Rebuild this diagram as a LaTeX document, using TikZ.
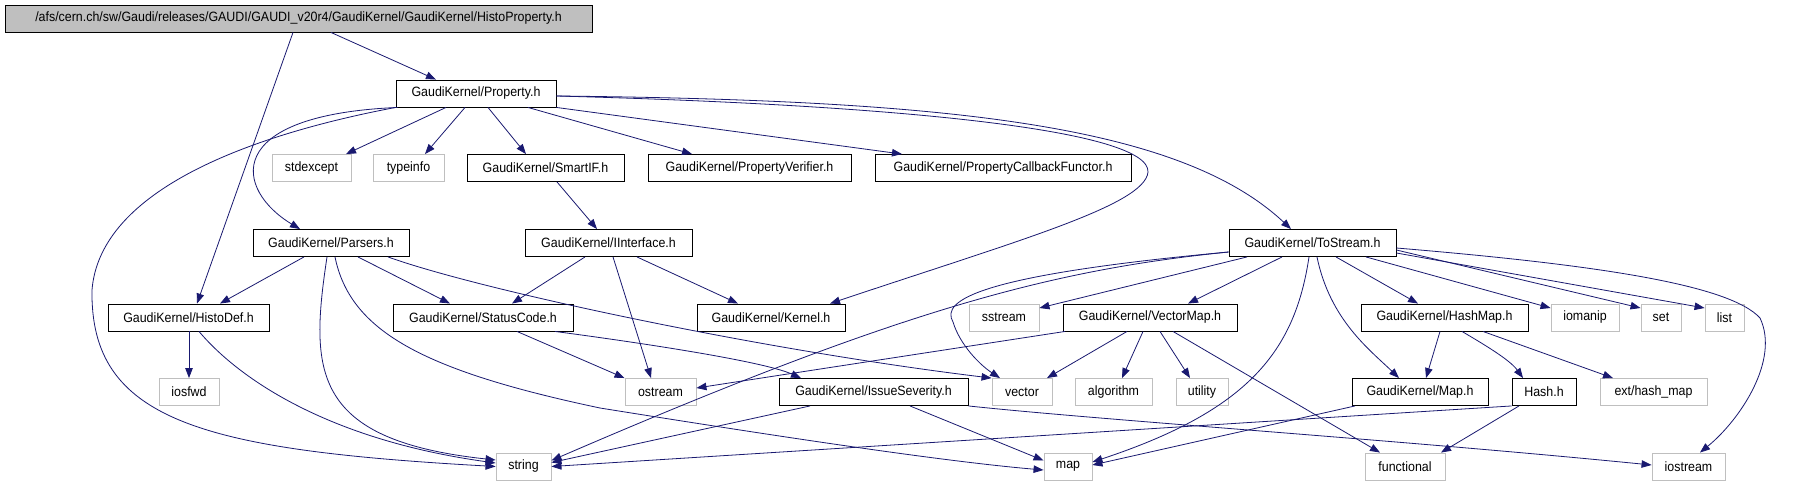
\documentclass[tikz,border=0pt]{standalone}
\usepackage{fontspec}
\setmainfont{Liberation Sans}[FakeStretch=0.92]
\usetikzlibrary{arrows.meta}
\definecolor{edgec}{HTML}{191970}
\definecolor{grayb}{HTML}{BFBFBF}
\begin{document}
\begin{tikzpicture}[x=1pt,y=-1pt,
  box/.style={draw=black, line width=0.9pt, minimum height=27pt, inner sep=0pt, font=\fontsize{13.5}{15}\selectfont},
  extbox/.style={box, draw=grayb},
  topbox/.style={box, fill=grayb},
  e/.style={draw=edgec, line width=0.8pt, -{Triangle[length=10pt,width=7.5pt]}}
]
\useasboundingbox[fill=white] (0,0) rectangle (1796,485);
% row 0/1
\node[topbox, minimum width=587pt] (main) at (298.5,18.5) {/afs/cern.ch/sw/Gaudi/releases/GAUDI/GAUDI\_v20r4/GaudiKernel/GaudiKernel/HistoProperty.h};
\node[box, minimum width=160pt] (prop) at (476,93.5) {GaudiKernel/Property.h};
% row 2
\node[extbox, minimum width=79pt] (stdexcept) at (311.5,168) {stdexcept};
\node[extbox, minimum width=71pt] (typeinfo) at (408.5,168) {typeinfo};
\node[box, minimum width=157pt] (smartif) at (545.5,168) {GaudiKernel/SmartIF.h};
\node[box, minimum width=203pt] (pverif) at (749.5,168) {GaudiKernel/PropertyVerifier.h};
\node[box, minimum width=256pt] (pcf) at (1003,168) {GaudiKernel/PropertyCallbackFunctor.h};
% row 3
\node[box, minimum width=156pt] (parsers) at (331,243) {GaudiKernel/Parsers.h};
\node[box, minimum width=167pt] (iinterface) at (608.5,243) {GaudiKernel/IInterface.h};
\node[box, minimum width=167pt] (tostream) at (1312.5,243) {GaudiKernel/ToStream.h};
% row 4
\node[box, minimum width=161pt] (histodef) at (188.5,317.5) {GaudiKernel/HistoDef.h};
\node[box, minimum width=180pt] (statuscode) at (483,317.5) {GaudiKernel/StatusCode.h};
\node[box, minimum width=148pt] (kernel) at (771,317.5) {GaudiKernel/Kernel.h};
\node[extbox, minimum width=70pt] (sstream) at (1004,317.5) {sstream};
\node[box, minimum width=174pt] (vectormap) at (1150,317.5) {GaudiKernel/VectorMap.h};
\node[box, minimum width=167pt] (hashmap) at (1444.5,317.5) {GaudiKernel/HashMap.h};
\node[extbox, minimum width=68pt] (iomanip) at (1585,317.5) {iomanip};
\node[extbox, minimum width=40pt] (set) at (1661,317.5) {set};
\node[extbox, minimum width=39pt] (list) at (1724.5,317.5) {list};
% row 5
\node[extbox, minimum width=60pt] (iosfwd) at (189,392) {iosfwd};
\node[extbox, minimum width=71pt] (ostream) at (660.5,392) {ostream};
\node[box, minimum width=189pt] (issue) at (873.5,392) {GaudiKernel/IssueSeverity.h};
\node[extbox, minimum width=60pt] (vector) at (1022,392) {vector};
\node[extbox, minimum width=77pt] (algorithm) at (1113.5,392) {algorithm};
\node[extbox, minimum width=52pt] (utility) at (1202,392) {utility};
\node[box, minimum width=136pt] (mapH) at (1420,392) {GaudiKernel/Map.h};
\node[box, minimum width=64pt] (hash) at (1544,392) {Hash.h};
\node[extbox, minimum width=107pt] (exthash) at (1653.5,392) {ext/hash\_map};
% row 6
\node[extbox, minimum width=55pt] (string) at (523.5,466.5) {string};
\node[extbox, minimum width=48pt] (map) at (1068,466.5) {map};
\node[extbox, minimum width=80pt] (functional) at (1405,466.5) {functional};
\node[extbox, minimum width=73pt] (iostream) at (1688.5,466.5) {iostream};

% edges
\draw[e] ([xshift=32.5pt]main.south) -- ([xshift=-40pt]prop.north);
\draw[e] ([xshift=-5.5pt]main.south) -- ([xshift=8.5pt]histodef.north);
\draw[e] ([xshift=-30pt]prop.south) -- ([xshift=34.5pt]stdexcept.north);
\draw[e] ([xshift=-11pt]prop.south) -- ([xshift=16.5pt]typeinfo.north);
\draw[e] ([xshift=12pt]prop.south) -- ([xshift=-19.5pt]smartif.north);
\draw[e] ([xshift=52pt]prop.south) -- ([xshift=-57.5pt]pverif.north);
\draw[e] (prop.south east) -- ([xshift=-101pt]pcf.north);
\draw[e] ([yshift=-2.5pt]prop.east) .. controls (950,100) and (1180,125) .. ([xshift=-21.5pt]tostream.north);
\draw[e] ([yshift=-2.5pt]prop.east) .. controls (900,105) and (1150,130) .. (1148,172) .. controls (1145,205) and (1020,240) .. ([xshift=59pt]kernel.north);
\draw[e] ([xshift=2pt]prop.south west) .. controls (220,115) and (235,190) .. ([xshift=-31pt]parsers.north);
\draw[e] (prop.south west) .. controls (250,135) and (100,190) .. (92,290) .. controls (90,420) and (200,450) .. (string.west);
\draw[e] ([xshift=11.5pt]smartif.south) -- ([xshift=-11.5pt]iinterface.north);
\draw[e] ([xshift=-23.5pt]iinterface.south) -- ([xshift=29pt]statuscode.north);
\draw[e] ([xshift=28.5pt]iinterface.south) -- ([xshift=-33pt]kernel.north);
\draw[e] ([xshift=4.5pt]iinterface.south) -- ([xshift=-9.5pt]ostream.north);
\draw[e] ([xshift=-27pt]parsers.south) -- ([xshift=31.5pt]histodef.north);
\draw[e] ([xshift=27pt]parsers.south) -- ([xshift=-33pt]statuscode.north);
\draw[e] ([xshift=-4pt]parsers.south) .. controls (310,370) and (310,440) .. ([yshift=6.5pt]string.west);
\draw[e] ([xshift=4pt]parsers.south) .. controls (350,330) and (420,370) .. (600,408) .. controls (800,440) and (950,462) .. ([yshift=-3.5pt]map.west);
\draw[e] ([xshift=57pt]parsers.south) .. controls (480,290) and (760,350) .. (vector.north west);
\draw[e] ([xshift=0.5pt]histodef.south) -- (iosfwd.north);
\draw[e] ([xshift=10.5pt]histodef.south) .. controls (240,380) and (330,440) .. ([yshift=3.5pt]string.west);
\draw[e] ([xshift=34pt]statuscode.south) -- (ostream.north west);
\draw[e] ([xshift=72pt]statuscode.south) .. controls (620,340) and (760,360) .. ([xshift=-72.5pt]issue.north);
\draw[e] ([xshift=-63.5pt]issue.south) -- ([yshift=4pt]string.east);
\draw[e] ([xshift=36.5pt]issue.south) -- ([yshift=6pt]map.west);
\draw[e] (issue.south east) .. controls (1100,420) and (1400,440) .. ([yshift=1.5pt]iostream.west);
\draw[e] ([yshift=-9pt]tostream.west) .. controls (1050,270) and (900,310) .. ([yshift=6pt]string.east);
\draw[e] ([yshift=-9pt]tostream.west) .. controls (980,275) and (940,300) .. (953,322) .. controls (960,345) and (980,365) .. ([xshift=-22pt]vector.north);
\draw[e] ([xshift=-65.5pt]tostream.south) -- ([yshift=9.5pt]sstream.east);
\draw[e] ([xshift=-30.5pt]tostream.south) -- ([xshift=38pt]vectormap.north);
\draw[e] ([xshift=-3.5pt]tostream.south) .. controls (1295,350) and (1250,410) .. ([yshift=4.5pt]map.east);
\draw[e] ([xshift=4.5pt]tostream.south) .. controls (1330,320) and (1370,350) .. ([xshift=-21pt]mapH.north);
\draw[e] ([xshift=23.5pt]tostream.south) -- ([xshift=-26.5pt]hashmap.north);
\draw[e] ([xshift=53.5pt]tostream.south) -- ([yshift=9.5pt]iomanip.west);
\draw[e] ([yshift=-7pt]tostream.east) -- ([yshift=9.5pt]set.west);
\draw[e] ([yshift=-10pt]tostream.east) -- ([yshift=9.5pt]list.west);
\draw[e] ([yshift=-5pt]tostream.east) .. controls (1600,265) and (1730,285) .. (1760,318) .. controls (1780,360) and (1740,420) .. ([xshift=11.5pt]iostream.north);
\draw[e] ([xshift=-85pt]vectormap.south) -- ([yshift=4pt]ostream.east);
\draw[e] ([xshift=-23pt]vectormap.south) -- ([xshift=25pt]vector.north);
\draw[e] ([xshift=-7pt]vectormap.south) -- ([xshift=8.5pt]algorithm.north);
\draw[e] ([xshift=10pt]vectormap.south) -- ([xshift=-12pt]utility.north);
\draw[e] ([xshift=23pt]vectormap.south) -- ([xshift=-25pt]functional.north);
\draw[e] ([xshift=-4.5pt]hashmap.south) -- ([xshift=6pt]mapH.north);
\draw[e] ([xshift=17.5pt]hashmap.south) .. controls (1485,345) and (1510,360) .. ([xshift=-21pt]hash.north);
\draw[e] ([xshift=38.5pt]hashmap.south) -- ([xshift=-40.5pt]exthash.north);
\draw[e] ([xshift=-65pt]mapH.south) -- ([yshift=1.5pt]map.east);
\draw[e] (hash.south west) -- (string.east);
\draw[e] ([xshift=-25pt]hash.south) -- ([xshift=36pt]functional.north);
\end{tikzpicture}
\end{document}
